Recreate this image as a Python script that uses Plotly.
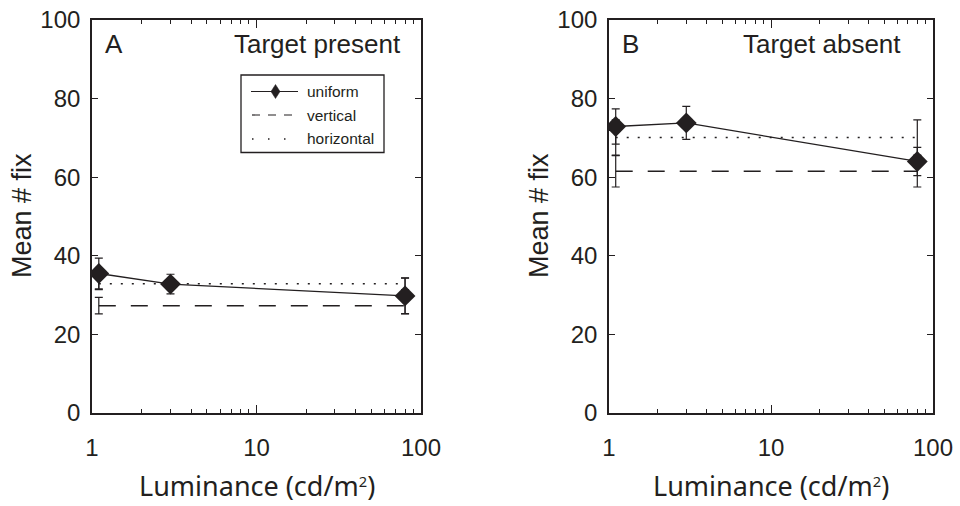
import plotly.graph_objects as go

# Luminance levels (cd/m^2) at which fixations were measured
luminance = [1.1, 3, 80]

# Target present: mean number of fixations and error
present_uniform = [35.5, 32.8, 29.8]
present_uniform_err = [3.9, 2.5, 4.5]
present_vertical = 27.3
present_vertical_err = 2.1
present_horizontal = 32.9
present_horizontal_err = 1.5

# Target absent
absent_uniform = [72.9, 73.8, 64.0]
absent_uniform_err = [4.5, 4.2, 3.6]
absent_vertical = 61.5
absent_vertical_err = 4.0
absent_horizontal = 70.1
absent_horizontal_err = 4.5

y_ticks = [0, 20, 40, 60, 80, 100]
x_ticks = [1, 10, 100]
x_tick_labels = ["1", "10", "100"]

INK = "#231f20"
W, H = 960, 506

fig = go.Figure()


def add_panel(xa, ya, uni, uni_err, vert, vert_err, hor, hor_err):
    ends = [luminance[0], luminance[-1]]
    fig.add_trace(go.Scatter(
        x=ends, y=[vert, vert], xaxis=xa, yaxis=ya, mode="lines",
        line=dict(color=INK, width=1.4, dash="17px,15px"),
        error_y=dict(type="data", array=[vert_err] * 2, color=INK, thickness=1.2, width=4),
        showlegend=False, hoverinfo="skip"))
    fig.add_trace(go.Scatter(
        x=ends, y=[hor, hor], xaxis=xa, yaxis=ya, mode="lines",
        line=dict(color=INK, width=1.5, dash="2px,9px"),
        error_y=dict(type="data", array=[hor_err] * 2, color=INK, thickness=1.2, width=4),
        showlegend=False, hoverinfo="skip"))
    fig.add_trace(go.Scatter(
        x=luminance, y=uni, xaxis=xa, yaxis=ya, mode="lines+markers",
        line=dict(color=INK, width=1.3),
        marker=dict(symbol="diamond", size=16, color=INK),
        error_y=dict(type="data", array=uni_err, color=INK, thickness=1.2, width=4),
        showlegend=False))


add_panel("x", "y", present_uniform, present_uniform_err, present_vertical,
          present_vertical_err, present_horizontal, present_horizontal_err)
add_panel("x2", "y2", absent_uniform, absent_uniform_err, absent_vertical,
          absent_vertical_err, absent_horizontal, absent_horizontal_err)


def px_x(p):
    return p / W


def px_y(p):
    return 1 - p / H


tick_font = dict(family="Liberation Sans, Arial, sans-serif", size=24, color=INK)
xaxis_common = dict(
    type="log", range=[0, 2], tickvals=x_ticks, ticktext=x_tick_labels,
    ticks="inside", ticklen=8, tickwidth=1.2, tickcolor=INK,
    minor=dict(ticks="inside", ticklen=4, tickwidth=1, tickcolor=INK, dtick="D1", showgrid=False),
    showline=True, linecolor=INK, linewidth=1.6, mirror="allticks",
    showgrid=False, zeroline=False, tickfont=tick_font, ticklabelstandoff=12,
    automargin=False,
)
yaxis_common = dict(
    range=[0, 100], tickvals=y_ticks, ticks="inside", ticklen=6, tickwidth=1.2,
    tickcolor=INK, showline=True, linecolor=INK, linewidth=1.6, mirror="allticks",
    showgrid=False, zeroline=False, tickfont=tick_font, ticklabelstandoff=5,
    automargin=False,
)

ydom = [px_y(413), px_y(20)]
fig.update_layout(
    width=W, height=H, margin=dict(l=0, r=0, t=0, b=0, pad=0, autoexpand=False),
    paper_bgcolor="white", plot_bgcolor="white", showlegend=False,
    xaxis=dict(domain=[px_x(92), px_x(421)], anchor="y", **xaxis_common),
    yaxis=dict(domain=ydom, anchor="x", **yaxis_common),
    xaxis2=dict(domain=[px_x(609), px_x(933)], anchor="y2", **xaxis_common),
    yaxis2=dict(domain=ydom, anchor="x2", **yaxis_common),
)

label_font = dict(family="Liberation Sans, Arial, sans-serif", size=26, color=INK)
title_font = dict(family="Noto Sans, Open Sans, sans-serif", size=27, color=INK)
ytitle_font = dict(family="Liberation Sans, Arial, sans-serif", size=27, color=INK)

annotations = []
for left, right, letter, name in [(92, 421, "A", "Target present"), (609, 933, "B", "Target absent")]:
    annotations.append(dict(x=px_x(left + 11), y=px_y(44), xref="paper", yref="paper",
                            text=letter, showarrow=False, xanchor="left", yanchor="middle",
                            font=label_font))
    annotations.append(dict(x=px_x(right - 18 if letter == "A" else right - 30), y=px_y(44),
                            xref="paper", yref="paper", text=name, showarrow=False,
                            xanchor="right", yanchor="middle", font=label_font))
    annotations.append(dict(x=px_x((left + right) / 2), y=px_y(505), xref="paper", yref="paper",
                            text="Luminance (cd/m<span style='font-size:21px'><sup>2</sup></span>)",
                            showarrow=False, xanchor="center", yanchor="bottom",
                            borderpad=0, font=title_font))
    annotations.append(dict(x=px_x(left - 70), y=px_y(216), xref="paper", yref="paper",
                            text="Mean # fix", showarrow=False, textangle=-90,
                            xanchor="center", yanchor="middle", font=ytitle_font))

# Legend for panel A, drawn as a framed key
legend_font = dict(family="Liberation Sans, Arial, sans-serif", size=15.5, color=INK)
legend_rows = [("uniform", 91.5), ("vertical", 115), ("horizontal", 139)]
shapes = [dict(type="rect", xref="paper", yref="paper",
               x0=px_x(241), x1=px_x(384), y0=px_y(152.5), y1=px_y(75),
               line=dict(color=INK, width=1.3), fillcolor="white", layer="above")]
for name, yy in legend_rows:
    annotations.append(dict(x=px_x(305), y=px_y(yy), xref="paper", yref="paper",
                            text=name, showarrow=False, xanchor="left", yanchor="middle",
                            font=legend_font))
    if name == "uniform":
        shapes.append(dict(type="line", xref="paper", yref="paper",
                           x0=px_x(251), x1=px_x(298), y0=px_y(yy), y1=px_y(yy),
                           line=dict(color=INK, width=1.2), layer="above"))
        shapes.append(dict(type="path", xref="paper", yref="paper",
                           xsizemode="pixel", ysizemode="pixel",
                           xanchor=px_x(275.5), yanchor=px_y(yy),
                           path="M -4.5 0 L 0 7 L 4.5 0 L 0 -7 Z",
                           fillcolor=INK, line=dict(color=INK, width=0.5), layer="above"))
    elif name == "vertical":
        shapes.append(dict(type="line", xref="paper", yref="paper",
                           x0=px_x(252), x1=px_x(292), y0=px_y(yy), y1=px_y(yy),
                           line=dict(color=INK, width=1.2, dash="8px,8px"), layer="above"))
    else:
        shapes.append(dict(type="line", xref="paper", yref="paper",
                           x0=px_x(252), x1=px_x(300), y0=px_y(yy), y1=px_y(yy),
                           line=dict(color=INK, width=1.3, dash="1.5px,14.5px"), layer="above"))

fig.update_layout(annotations=annotations, shapes=shapes)

fig.write_html("out.html")
